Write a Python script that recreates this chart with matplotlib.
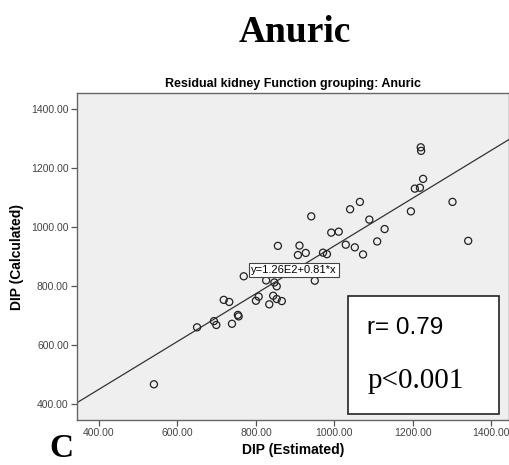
import numpy as np
import matplotlib
matplotlib.use('Agg')
import matplotlib.pyplot as plt
from matplotlib.patches import Rectangle

# DIP values
dip_estimated = [540, 650, 693, 699, 718, 732, 739, 754, 756, 769,
                 800, 807, 826, 834, 844, 847, 853, 853, 866, 856,
                 907, 911, 927, 941, 950, 971, 981, 992, 1011, 1029,
                 1040, 1052, 1065, 1073, 1089, 1109, 1128, 1195, 1205, 1218,
                 1220, 1221, 1226, 1301, 1341]
dip_calculated = [467, 660, 681, 668, 753, 746, 672, 702, 697, 833,
                  750, 764, 819, 738, 767, 812, 799, 756, 749, 936,
                  905, 937, 912, 1036, 818, 913, 908, 981, 984, 940,
                  1060, 931, 1085, 907, 1025, 951, 993, 1053, 1130, 1133,
                  1270, 1258, 1163, 1085, 953]

fit_intercept = 126
fit_slope = 0.81
xticks = [400, 600, 800, 1000, 1200, 1400]
yticks = [400, 600, 800, 1000, 1200, 1400]

sans = ['Liberation Sans', 'DejaVu Sans']
serif = ['Liberation Serif', 'DejaVu Serif']

fig = plt.figure(figsize=(5.09, 4.65), dpi=100)
ax = fig.add_axes([77 / 509, 45 / 465, 432 / 509, 327 / 465])
ax.set_facecolor('#efefef')

ax.set_xlim(344, 1445)
ax.set_ylim(346, 1454)

# regression line across the whole plot area
xl = np.array(ax.get_xlim())
ax.plot(xl, fit_intercept + fit_slope * xl, color='#333333', lw=0.9, zorder=2)

ax.scatter(dip_estimated, dip_calculated, s=26, facecolors='none',
           edgecolors='#222222', linewidths=0.9, zorder=3)

ax.set_xticks(xticks)
ax.set_yticks(yticks)
ax.set_xticklabels(['%.2f' % v for v in xticks], fontsize=7.5, family=sans, color='#444444')
ax.set_yticklabels(['%.2f' % v for v in yticks], fontsize=7.5, family=sans, color='#444444')
ax.tick_params(direction='out', length=4, width=0.9, color='#555555', pad=2)
for sp in ax.spines.values():
    sp.set_color('#666666')
    sp.set_linewidth(1.0)

ax.set_xlabel('DIP (Estimated)', fontsize=10, fontweight='bold', family=sans, labelpad=3)
ax.set_ylabel('DIP (Calculated)', fontsize=10, fontweight='bold', family=sans, labelpad=5)
ax.set_title('Residual kidney Function grouping: Anuric', fontsize=9,
             fontweight='bold', family=sans, pad=4)

# equation label
ax.text(897, 854, 'y=1.26E2+0.81*x', fontsize=8, family=sans, ha='center', va='center',
        zorder=4, bbox=dict(boxstyle='square,pad=0.2', fc='white', ec='#444444', lw=0.8))

# statistics box
ax.add_patch(Rectangle((0.627, 0.018), 0.35, 0.361, transform=ax.transAxes,
                       facecolor='white', edgecolor='#222222', lw=1.2, zorder=5))
ax.text(0.672, 0.28, 'r= 0.79', transform=ax.transAxes, fontsize=17.5,
        family=sans, va='center', ha='left', zorder=6)
ax.text(0.672, 0.12, 'p<0.001', transform=ax.transAxes, fontsize=21,
        family=serif, va='center', ha='left', zorder=6)

fig.text(295 / 509, 1 - 33 / 465, 'Anuric', fontsize=27, fontweight='bold',
         family=serif, ha='center', va='center')
fig.text(61 / 509, 1 - 448 / 465, 'C', fontsize=24, fontweight='bold',
         family=serif, ha='center', va='center')

fig.savefig('out.png', dpi=100)
